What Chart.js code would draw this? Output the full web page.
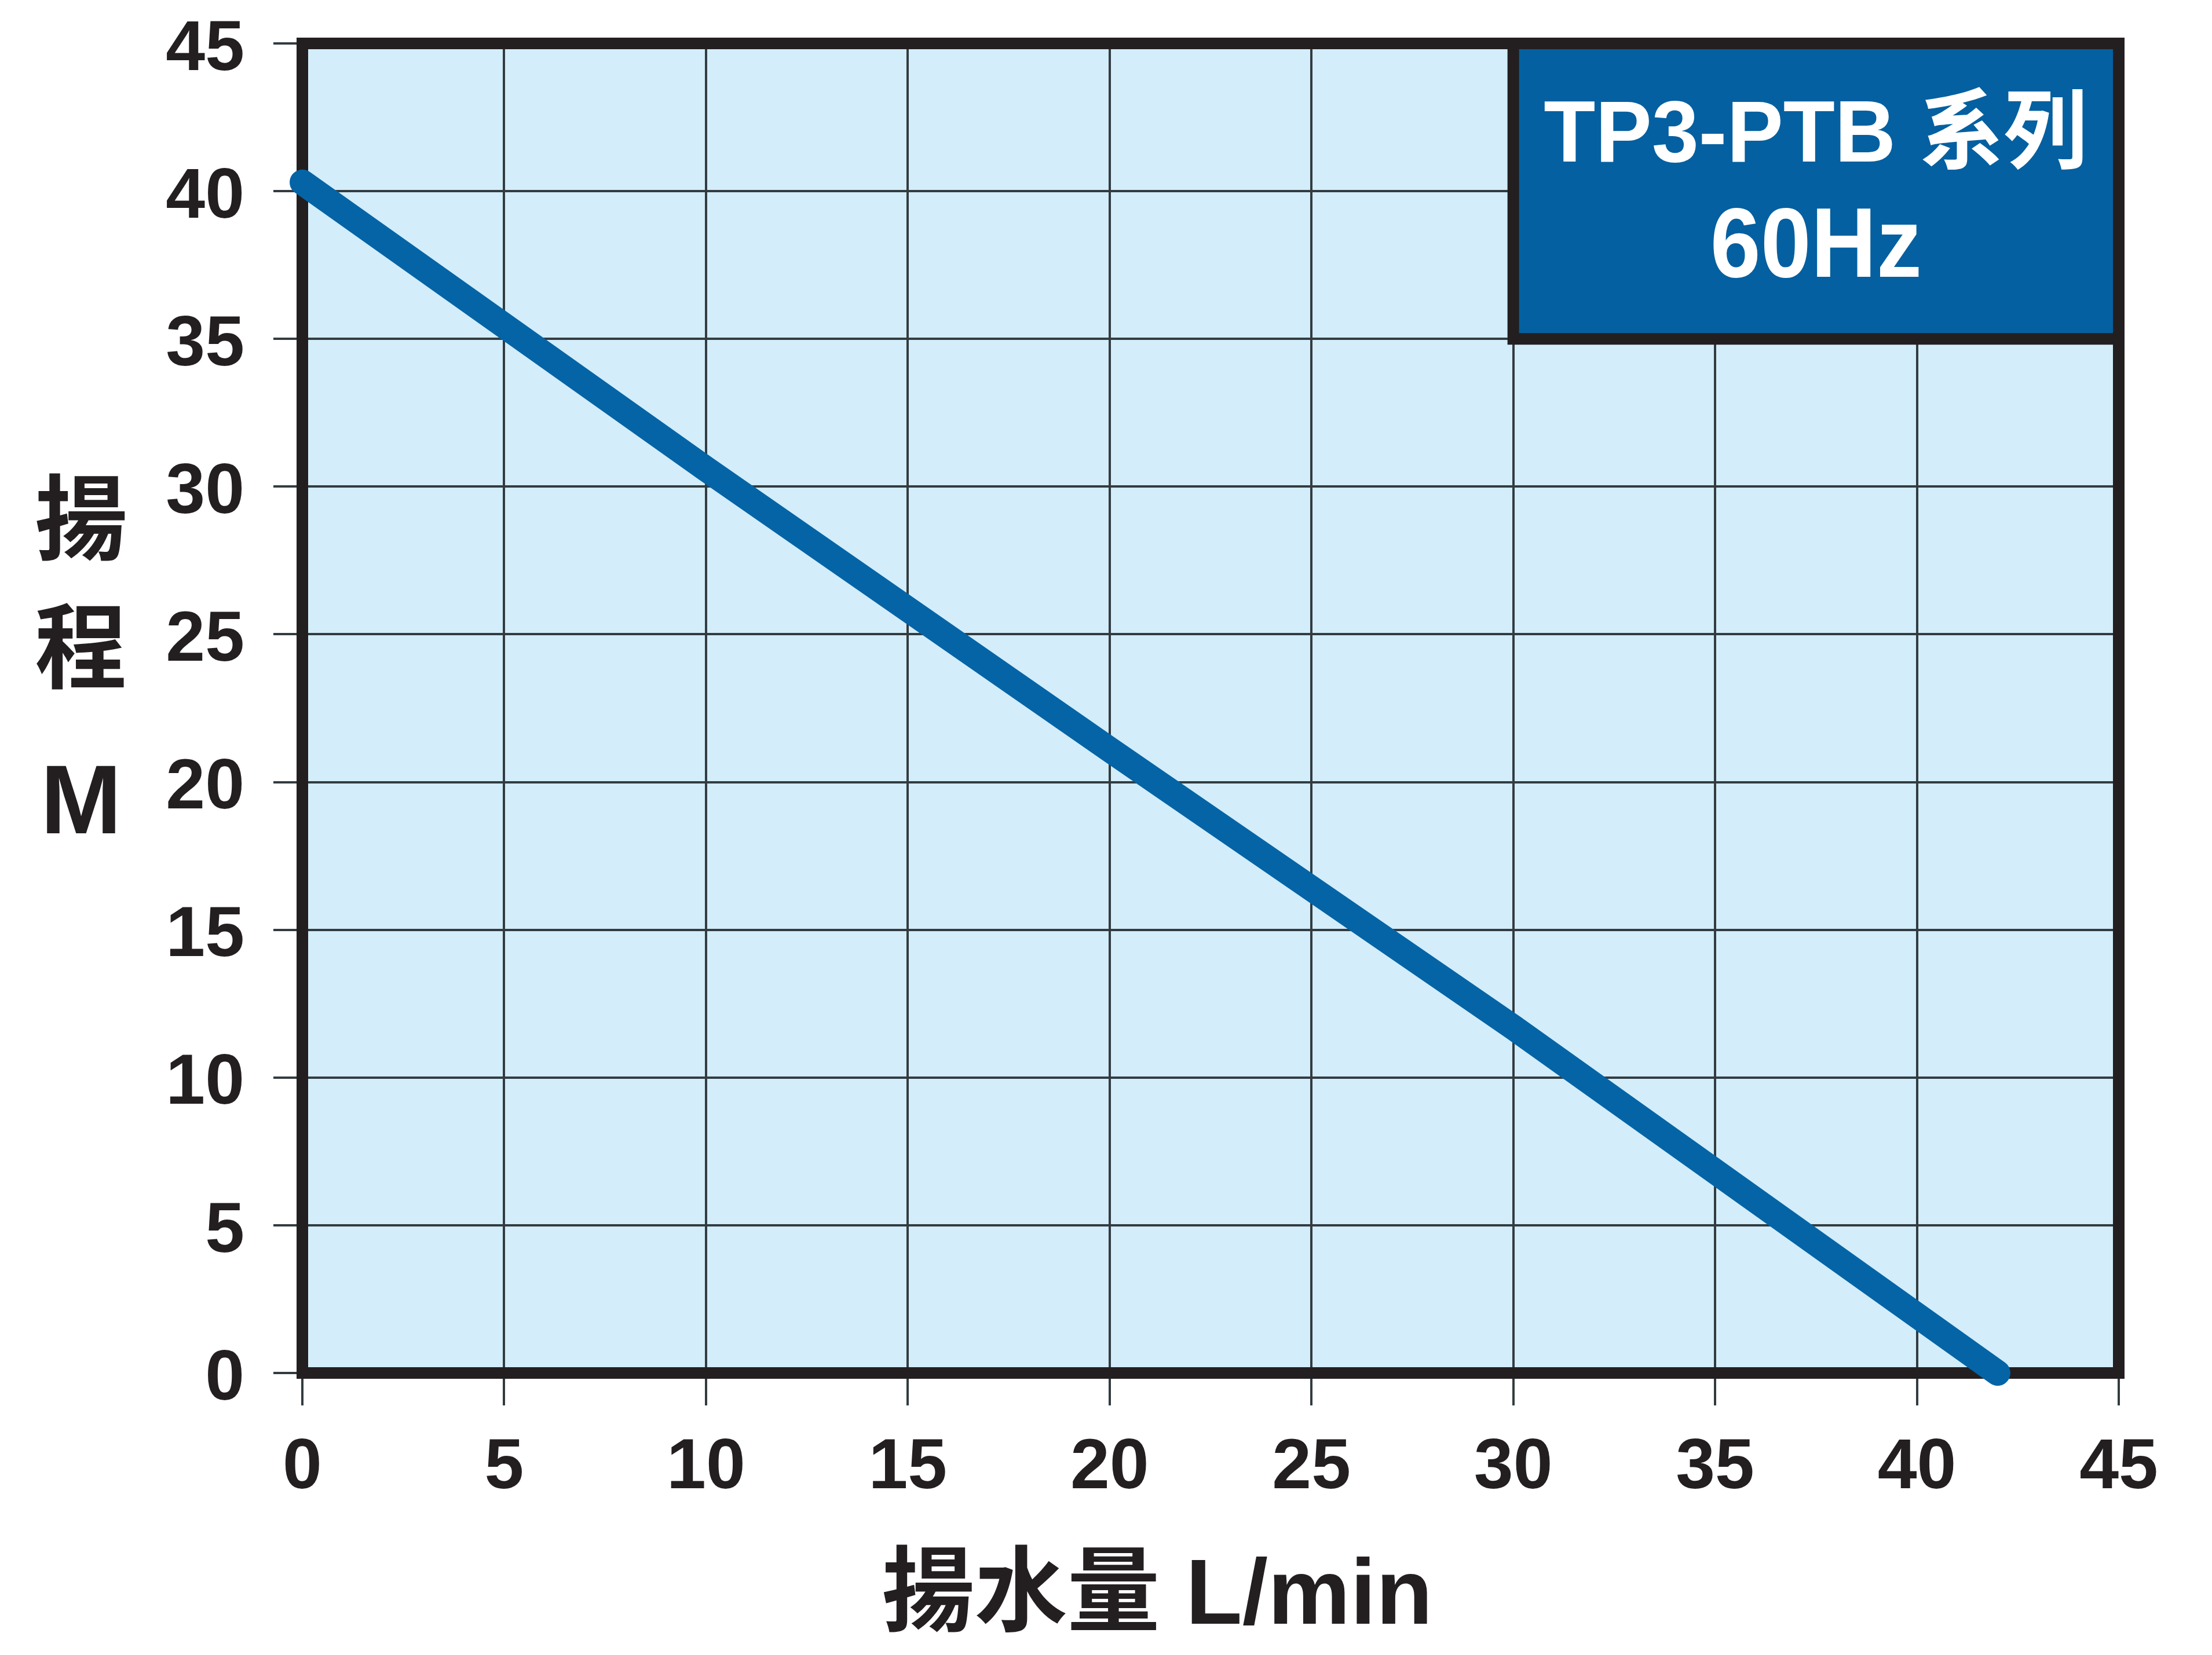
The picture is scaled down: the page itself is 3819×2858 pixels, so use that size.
<!DOCTYPE html>
<html>
<head>
<meta charset="utf-8">
<script src="https://cdn.jsdelivr.net/npm/chart.js@4.4.1/dist/chart.umd.min.js"></script>
<style>
  html, body { margin: 0; padding: 0; background: #ffffff; }
  #wrap { width: 3819px; height: 2858px; position: relative; }
</style>
</head>
<body>
<div id="wrap"><canvas id="c"></canvas></div>
<script>
// ---- data ----
const flowLpm = [0, 10, 20, 30, 42];          // 揚水量 L/min
const headM   = [40.3, 30.6, 21.1, 11.7, 0];  // 揚程 M
const xTickValues = [0, 5, 10, 15, 20, 25, 30, 35, 40, 45];
const yTickValues = [0, 5, 10, 15, 20, 25, 30, 35, 40, 45];
const xTitleText = '揚水量 L/min';
const yTitleChars = ['揚', '程', 'M'];
const boxLines = ['TP3-PTB 系列', '60Hz'];
const boxFlowRange = [30, 45];
const boxHeadRange = [35, 45];

// ---- style ----
const INK = '#231F20';
const GRID = '#323c40';
const PLOT_BG = '#D3EDFA';
const BOX_BLUE = '#0460A0';
const LINE_BLUE = '#0464A6';
const FRAME_W = 20;
const TICK_FONT = "'Liberation Sans', Arial, sans-serif";
const TITLE_FONT = "'Liberation Sans', 'Noto Sans CJK TC', sans-serif";

const points = flowLpm.map((v, i) => ({ x: v, y: headM[i] }));

const decor = {
  id: 'decor',
  beforeDraw(chart) {
    const { ctx, chartArea: a } = chart;
    ctx.save();
    ctx.fillStyle = '#ffffff';
    ctx.fillRect(0, 0, chart.width, chart.height);
    ctx.fillStyle = PLOT_BG;
    ctx.fillRect(a.left, a.top, a.right - a.left, a.bottom - a.top);
    ctx.restore();
  },
  beforeDatasetsDraw(chart) {
    const { ctx, chartArea: a, scales: { x, y } } = chart;
    ctx.save();
    const bx0 = x.getPixelForValue(boxFlowRange[0]);
    const bx1 = x.getPixelForValue(boxFlowRange[1]);
    const by0 = y.getPixelForValue(boxHeadRange[1]);
    const by1 = y.getPixelForValue(boxHeadRange[0]);
    ctx.fillStyle = BOX_BLUE;
    ctx.fillRect(bx0, by0, bx1 - bx0, by1 - by0);
    ctx.lineWidth = FRAME_W;
    ctx.strokeStyle = INK;
    ctx.strokeRect(bx0, by0, bx1 - bx0, by1 - by0);
    ctx.strokeRect(a.left, a.top, a.right - a.left, a.bottom - a.top);
    const cx = (bx0 + bx1) / 2;
    const bh = by1 - by0;
    const specs = [
      { text: boxLines[0], size: 150, base: by0 + bh * 0.40, maxW: 940 },
      { text: boxLines[1], size: 170, base: by0 + bh * 0.79, maxW: 365 }
    ];
    ctx.fillStyle = '#ffffff';
    ctx.textAlign = 'center';
    ctx.textBaseline = 'alphabetic';
    specs.forEach(s => {
      ctx.font = 'bold ' + s.size + 'px ' + TITLE_FONT;
      const w = ctx.measureText(s.text).width;
      const k = Math.min(1, s.maxW / w);
      ctx.save();
      ctx.translate(cx, s.base);
      ctx.scale(k, 1);
      ctx.fillText(s.text, 0, 0);
      ctx.restore();
    });
    ctx.restore();
  },
  afterDraw(chart) {
    const { ctx } = chart;
    ctx.save();
    ctx.fillStyle = INK;
    ctx.textAlign = 'center';
    ctx.textBaseline = 'middle';
    const yc = [910, 1132, 1393];
    yTitleChars.forEach((ch, i) => {
      ctx.font = 'bold ' + (i === 2 ? 168 : 160) + 'px ' + TITLE_FONT;
      ctx.fillText(ch, 140, yc[i]);
    });
    ctx.font = 'bold 160px ' + TITLE_FONT;
    ctx.fillText(xTitleText, 1998, 2760);
    ctx.restore();
  }
};

new Chart(document.getElementById('c'), {
  type: 'line',
  data: {
    datasets: [{
      data: points,
      borderColor: LINE_BLUE,
      borderWidth: 44,
      borderCapStyle: 'round',
      borderJoinStyle: 'round',
      pointRadius: 0,
      tension: 0,
      fill: false,
      clip: false
    }]
  },
  options: {
    responsive: true,
    maintainAspectRatio: false,
    devicePixelRatio: 1,
    animation: false,
    events: [],
    layout: { padding: { left: 0, top: 75, right: 161, bottom: 0 } },
    plugins: { legend: { display: false }, tooltip: { enabled: false }, title: { display: false } },
    scales: {
      x: {
        type: 'linear',
        min: 0, max: 45,
        afterBuildTicks: s => { s.ticks = xTickValues.map(v => ({ value: v })); },
        afterFit: s => { s.height = 487; s.paddingLeft = 0; s.paddingRight = 0; },
        border: { display: false },
        grid: { color: GRID, lineWidth: 4, tickLength: 56, tickColor: GRID, tickWidth: 4 },
        ticks: {
          padding: 36,
          color: INK,
          maxRotation: 0,
          autoSkip: false,
          font: { family: TICK_FONT, size: 122, weight: 'bold' }
        }
      },
      y: {
        type: 'linear',
        min: 0, max: 45,
        afterBuildTicks: s => { s.ticks = yTickValues.map(v => ({ value: v })); },
        afterFit: s => { s.width = 522; s.paddingTop = 0; s.paddingBottom = 0; },
        border: { display: false },
        grid: { color: GRID, lineWidth: 4, tickLength: 50, tickColor: GRID, tickWidth: 4 },
        ticks: {
          padding: 50,
          labelOffset: 12,
          color: INK,
          autoSkip: false,
          font: { family: TICK_FONT, size: 122, weight: 'bold' }
        }
      }
    }
  },
  plugins: [decor]
});
</script>
</body>
</html>
